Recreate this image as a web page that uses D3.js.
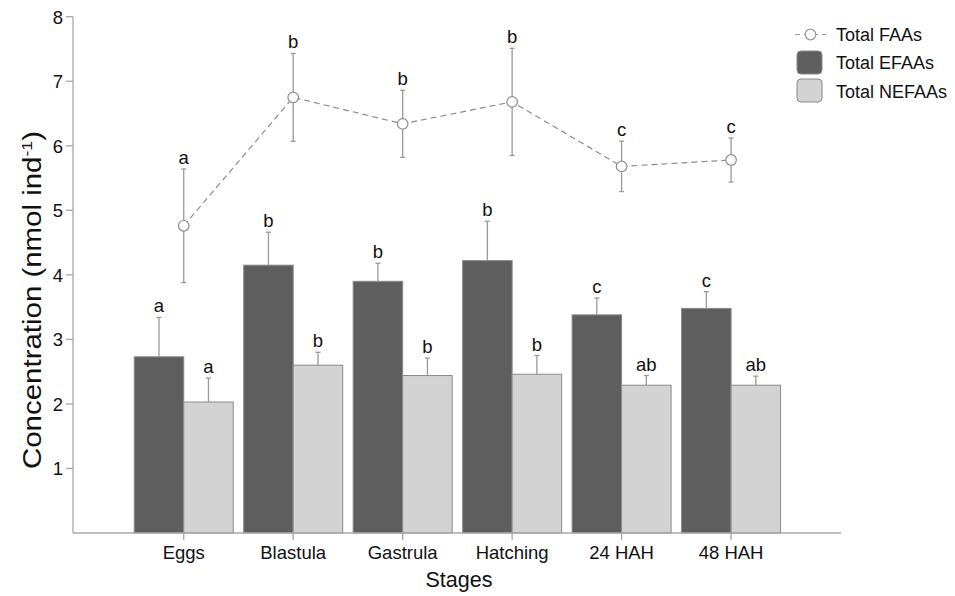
<!DOCTYPE html>
<html>
<head>
<meta charset="utf-8">
<script src="https://cdn.jsdelivr.net/npm/d3@7/dist/d3.min.js"></script>
<style>
  html, body { margin: 0; padding: 0; background: #fff; }
  svg { display: block; }
  text { font-family: "Liberation Sans", Arial, Helvetica, sans-serif; fill: #111; }
</style>
</head>
<body>
<svg id="chart" width="955" height="596"></svg>
<script>
// ---- data ----
const stages = ["Eggs", "Blastula", "Gastrula", "Hatching", "24 HAH", "48 HAH"];
const faa = [4.76, 6.75, 6.34, 6.68, 5.68, 5.78];
const faaErr = [0.88, 0.68, 0.52, 0.83, 0.39, 0.34];
const efaa = [2.73, 4.15, 3.90, 4.22, 3.38, 3.48];
const efaaErr = [0.61, 0.51, 0.28, 0.61, 0.26, 0.26];
const nefaa = [2.03, 2.60, 2.44, 2.46, 2.29, 2.29];
const nefaaErr = [0.37, 0.20, 0.27, 0.29, 0.15, 0.14];
const faaLetters = ["a", "b", "b", "b", "c", "c"];
const efaaLetters = ["a", "b", "b", "b", "c", "c"];
const nefaaLetters = ["a", "b", "b", "b", "ab", "ab"];
const yTicks = [1, 2, 3, 4, 5, 6, 7, 8];
const seriesNames = ["Total FAAs", "Total EFAAs", "Total NEFAAs"];

// ---- layout ----
const svg = d3.select("#chart");
const axisX0 = 73, axisX1 = 841, axisY = 533;
const darkFill = "#5e5e5e", lightFill = "#d3d3d3", barStroke = "#8a8a8a";
const errColor = "#9a9a9a", axisColor = "#a8a8a8";

const x = d3.scaleBand().domain(stages).range([129, 785.8]).paddingInner(0.0956).paddingOuter(0.0478);
const sub = d3.scaleBand().domain(["EFAAs", "NEFAAs"]).range([0, x.bandwidth()]);
const y = d3.scaleLinear().domain([0, 8]).range([533, 16.7]);

// ---- axes ----
const yAxis = svg.append("g");
yAxis.append("line").attr("x1", axisX0).attr("x2", axisX0).attr("y1", y(0)).attr("y2", y(8))
  .attr("stroke", axisColor).attr("stroke-width", 1.3);
yTicks.forEach(t => {
  yAxis.append("line").attr("x1", axisX0 - 7).attr("x2", axisX0).attr("y1", y(t)).attr("y2", y(t))
    .attr("stroke", axisColor).attr("stroke-width", 1.3);
  yAxis.append("text").attr("x", 63).attr("y", y(t)).attr("dy", "0.37em")
    .attr("text-anchor", "end").attr("font-size", 18.5).text(t);
});

// bars
const gBars = svg.append("g");
stages.forEach((s, i) => {
  const bx = x(s);
  [[efaa, darkFill, "EFAAs"], [nefaa, lightFill, "NEFAAs"]].forEach(([vals, fill, key]) => {
    const x0 = bx + sub(key);
    gBars.append("rect").attr("x", x0).attr("y", y(vals[i])).attr("width", sub.bandwidth())
      .attr("height", y(0) - y(vals[i])).attr("fill", fill).attr("stroke", barStroke).attr("stroke-width", 1);
  });
});

// bar error bars + letters
const gErr = svg.append("g");
stages.forEach((s, i) => {
  [[efaa, efaaErr, efaaLetters, "EFAAs"], [nefaa, nefaaErr, nefaaLetters, "NEFAAs"]].forEach(([vals, errs, lets, key]) => {
    const cx = x(s) + sub(key) + sub.bandwidth() / 2;
    const top = y(vals[i] + errs[i]);
    gErr.append("line").attr("x1", cx).attr("x2", cx).attr("y1", y(vals[i])).attr("y2", top)
      .attr("stroke", errColor).attr("stroke-width", 1.3);
    gErr.append("line").attr("x1", cx - 2.5).attr("x2", cx + 2.5).attr("y1", top).attr("y2", top)
      .attr("stroke", errColor).attr("stroke-width", 1.3);
    gErr.append("text").attr("x", cx).attr("y", top - 5).attr("text-anchor", "middle")
      .attr("font-size", 18.5).text(lets[i]);
  });
});

// x axis
const xAxis = svg.append("g");
xAxis.append("line").attr("x1", axisX0).attr("x2", axisX1).attr("y1", axisY).attr("y2", axisY)
  .attr("stroke", axisColor).attr("stroke-width", 1.3);
stages.forEach(s => {
  const cx = x(s) + x.bandwidth() / 2;
  xAxis.append("line").attr("x1", cx).attr("x2", cx).attr("y1", axisY).attr("y2", axisY + 7)
    .attr("stroke", axisColor).attr("stroke-width", 1.3);
  xAxis.append("text").attr("x", cx).attr("y", 558.5).attr("text-anchor", "middle")
    .attr("font-size", 18.5).text(s);
});

// line series
const cxOf = s => x(s) + x.bandwidth() / 2;
const gLine = svg.append("g");
const pts = stages.map((s, i) => [cxOf(s), y(faa[i])]);
gLine.append("path").attr("d", d3.line()(pts)).attr("fill", "none")
  .attr("stroke", "#8c8c8c").attr("stroke-width", 1.2).attr("stroke-dasharray", "6,4");
stages.forEach((s, i) => {
  const cx = cxOf(s);
  const t = y(faa[i] + faaErr[i]), b = y(faa[i] - faaErr[i]);
  gLine.append("line").attr("x1", cx).attr("x2", cx).attr("y1", t).attr("y2", b)
    .attr("stroke", errColor).attr("stroke-width", 1.3);
  [t, b].forEach(yy => gLine.append("line").attr("x1", cx - 2.5).attr("x2", cx + 2.5)
    .attr("y1", yy).attr("y2", yy).attr("stroke", errColor).attr("stroke-width", 1.3));
  gLine.append("circle").attr("cx", cx).attr("cy", y(faa[i])).attr("r", 5.3)
    .attr("fill", "#fff").attr("stroke", "#8c8c8c").attr("stroke-width", 1.2);
  gLine.append("text").attr("x", cx).attr("y", t - 5).attr("text-anchor", "middle")
    .attr("font-size", 18.5).text(faaLetters[i]);
});

// axis titles
svg.append("text").attr("x", 459).attr("y", 587).attr("text-anchor", "middle")
  .attr("font-size", 21.5).text("Stages");
const yt = svg.append("text").attr("transform", "translate(41,300) rotate(-90)")
  .attr("text-anchor", "middle").attr("font-size", 25)
  .attr("textLength", 338).attr("lengthAdjust", "spacingAndGlyphs");
yt.append("tspan").text("Concentration (nmol ind");
yt.append("tspan").attr("dy", -9).attr("font-size", 15).text("-1");
yt.append("tspan").attr("dy", 9).text(")");

// legend
const lg = svg.append("g");
lg.append("line").attr("x1", 795).attr("x2", 826).attr("y1", 34.5).attr("y2", 34.5)
  .attr("stroke", "#9a9a9a").attr("stroke-width", 1.2).attr("stroke-dasharray", "5,4");
lg.append("circle").attr("cx", 810.5).attr("cy", 34.5).attr("r", 5.3)
  .attr("fill", "#fff").attr("stroke", "#9a9a9a").attr("stroke-width", 1.2);
lg.append("rect").attr("x", 797).attr("y", 51).attr("width", 25).attr("height", 23).attr("rx", 4)
  .attr("fill", darkFill).attr("stroke", barStroke);
lg.append("rect").attr("x", 797).attr("y", 79).attr("width", 25).attr("height", 23).attr("rx", 4)
  .attr("fill", lightFill).attr("stroke", barStroke);
[40.5, 69, 97.5].forEach((yy, i) => {
  lg.append("text").attr("x", 836).attr("y", yy).attr("font-size", 18).text(seriesNames[i]);
});
</script>
</body>
</html>
